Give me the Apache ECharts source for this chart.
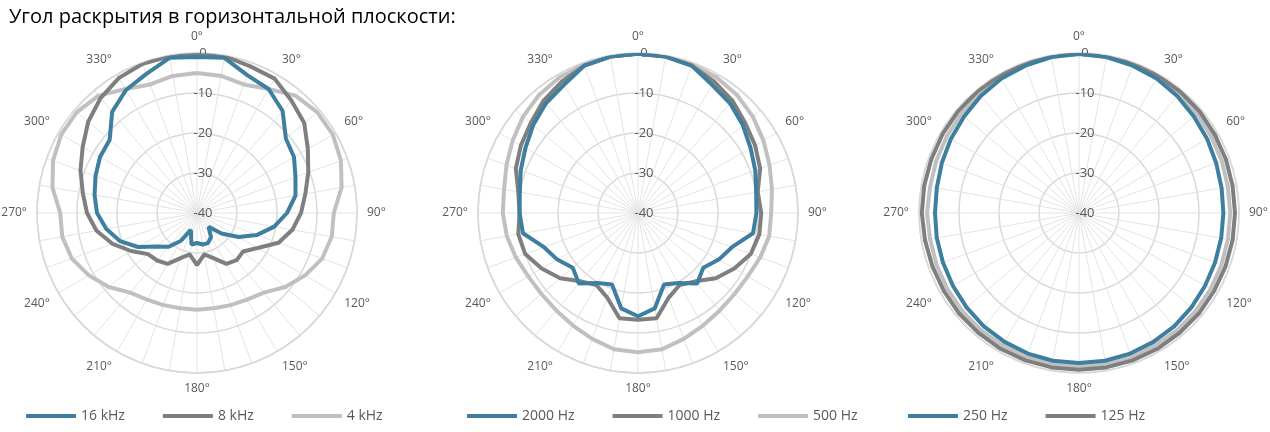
<!DOCTYPE html>
<html><head><meta charset="utf-8">
<script src="https://cdn.jsdelivr.net/npm/echarts@6/dist/echarts.min.js"></script>
<style>html,body{margin:0;padding:0;background:#fff}#c{width:1270px;height:432px}</style>
</head><body><div id="c"></div>
<script>
const angles = [0,10,20,30,40,50,60,70,80,90,100,110,120,130,140,150,160,170,180,190,200,210,220,230,240,250,260,270,280,290,300,310,320,330,340,350];
const names1 = ['16 kHz','8 kHz','4 kHz'];
const names2 = ['2000 Hz','1000 Hz','500 Hz'];
const names3 = ['250 Hz','125 Hz','63 Hz'];
const k16 = [-1,-0.6,-3.3,-4.2,-6.7,-11,-12,-13.8,-15,-17.5,-20.4,-24,-28,-32,-35.5,-33,-32,-32,-32.5,-32,-35.5,-32,-29,-27,-23,-19.5,-17,-15,-14,-13,-12,-11.5,-7,-4.5,-3,-0.6];
const k8 = [-0.2,-0.2,-1,-1.2,-3.3,-5,-8,-10.4,-12.5,-14,-15.8,-18.3,-22.5,-25,-24.6,-25.3,-28,-29.5,-27,-29.5,-28,-25.3,-24.5,-24,-21,-17.5,-14.5,-12.5,-11,-9,-7,-4.5,-2.5,-1,-0.3,-0.2];
const k4 = [-5,-5.2,-5.8,-4.2,-1.7,-0.8,-0.8,-1.7,-3.3,-5.8,-5.8,-6.7,-8.8,-11.2,-14,-15,-15.5,-15.8,-15.8,-15.8,-15.5,-15,-14,-11.2,-8.8,-6.7,-5.8,-5.8,-3.3,-1.7,-0.8,-0.8,-1.7,-4.2,-5.8,-5.2];
const h2000 = [-0.2,-0.3,-0.8,-3,-4.2,-5.8,-7.5,-8.8,-10,-10.4,-10.8,-15,-16.7,-18.7,-17,-19.8,-21,-15.8,-14.2,-15.8,-21,-19.8,-17,-18.7,-16.7,-15,-10.8,-10.4,-10,-8.8,-7.5,-5.8,-4.2,-3,-0.8,-0.3];
const h1000 = [-0.2,-0.3,-0.8,-2,-3.3,-5,-6.2,-7.5,-9.6,-9.2,-9.2,-10,-12.2,-14.6,-17.7,-19.2,-17.5,-13.3,-13.3,-13.3,-17.5,-19.2,-17.7,-14.6,-12.2,-10,-9.6,-10.4,-9.6,-7.5,-6.2,-5,-3.3,-2,-0.8,-0.3];
const h500 = [-0.2,-0.3,-0.5,-0.8,-1.5,-2.5,-3.8,-5,-6,-6.7,-6.7,-7.5,-8.3,-8.5,-8.2,-7.5,-6.5,-5.4,-5.2,-5.4,-6.5,-7.5,-8.2,-8.5,-8.3,-7.5,-6.7,-6.2,-6,-5,-3.8,-2.5,-1.5,-0.8,-0.5,-0.3];
const h250 = [-0.2,-0.4,-0.8,-1.2,-1.8,-2.5,-3,-3.5,-3.8,-3.9,-3.9,-3.8,-3.6,-3.3,-3,-2.8,-2.6,-2.5,-2.5,-2.5,-2.6,-2.8,-3,-3.3,-3.6,-3.8,-3.9,-4,-3.9,-3.5,-3,-2.5,-1.8,-1.2,-0.8,-0.4];
const h125 = [-0.2,-0.2,-0.3,-0.4,-0.5,-0.6,-0.8,-0.9,-1,-1,-1,-1,-1,-0.9,-0.9,-0.8,-0.8,-0.8,-0.8,-0.8,-0.8,-0.8,-0.9,-0.9,-1,-1,-0.9,-0.7,-0.7,-0.7,-0.6,-0.5,-0.4,-0.3,-0.2,-0.2];
const h63 = [-0.3,-0.4,-0.6,-0.9,-1.2,-1.5,-1.8,-2,-2.2,-2.2,-2.2,-2.1,-2,-1.9,-1.8,-1.8,-1.7,-1.7,-1.7,-1.7,-1.7,-1.8,-1.8,-1.9,-2,-2.1,-2.2,-2,-2.2,-2,-1.8,-1.5,-1.2,-0.9,-0.6,-0.4];
const radiusTicks = [-40,-30,-20,-10,0];

const colors = ['#3e7fa0','#7f7f7f','#c0c0c0'];
const centers = [197,638,1079];
const groups = [[names1,[k16,k8,k4]],[names2,[h2000,h1000,h500]],[names3,[h250,h125,h63]]];
const font = 'Open Sans';
const polar=[],angleAxis=[],radiusAxis=[],series=[],legend=[];
groups.forEach((g,i)=>{
  polar.push({center:[centers[i],213],radius:160});
  angleAxis.push({polarIndex:i,type:'value',min:0,max:360,interval:10,startAngle:90,clockwise:true,
    axisLine:{show:true,lineStyle:{color:'#d9d9d9',width:1.5}},axisTick:{show:false},
    axisLabel:{color:'#595959',fontSize:12,fontFamily:font,margin:10,formatter:v=>(v%30===0&&v<360)?v+'°':''},
    splitLine:{show:true,lineStyle:{color:'#e3e3e3',width:1}}});
  radiusAxis.push({polarIndex:i,type:'value',min:radiusTicks[0],max:radiusTicks[radiusTicks.length-1],interval:10,
    axisLine:{show:false},axisTick:{show:false},
    axisLabel:{color:'#595959',fontSize:13,fontFamily:font,margin:-6,align:'center',verticalAlign:'middle'},
    splitLine:{show:true,lineStyle:{color:'#d9d9d9',width:1.5}}});
  legend.push({left:centers[i]-176,top:404,itemWidth:50,itemHeight:4,itemGap:38,icon:'rect',
    data:g[0],textStyle:{color:'#595959',fontSize:14,fontFamily:font}});
  g[1].forEach((vals,j)=>{
    const d = angles.map((a,k)=>[vals[k],a]); d.push([vals[0],360]);
    series.push({name:g[0][j],type:'line',coordinateSystem:'polar',polarIndex:i,data:d,symbol:'none',
      lineStyle:{width:4,color:colors[j]},itemStyle:{color:colors[j]},z:10-j});
  });
});
const chart = echarts.init(document.getElementById('c'));
chart.setOption({animation:false,
  title:{text:'Угол раскрытия в горизонтальной плоскости:',left:4,top:2,textStyle:{fontFamily:font,fontSize:20,fontWeight:'normal',color:'#000'}},
  polar,angleAxis,radiusAxis,legend,series});
</script></body></html>
